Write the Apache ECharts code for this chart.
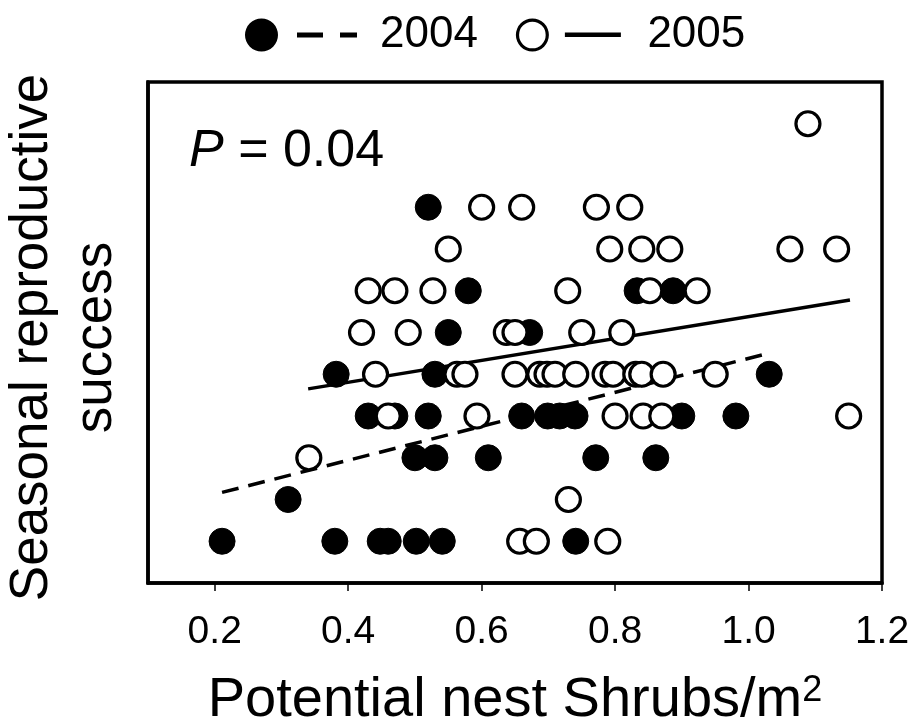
<!DOCTYPE html>
<html>
<head>
<meta charset="utf-8">
<script src="https://cdn.jsdelivr.net/npm/echarts@6/dist/echarts.min.js"></script>
<style>
html,body{margin:0;padding:0;background:#fff;}
#chart{width:914px;height:728px;}
</style>
</head>
<body>
<div id="chart"></div>
<script>
// Data
const years = ['2004', '2005'];
const xTicks = [0.2, 0.4, 0.6, 0.8, 1.0, 1.2];

// 2004 (filled): [shrubs per m2, seasonal reproductive success]
const x2004 = [0.52, 0.58, 0.833, 0.887, 0.55, 0.672, 0.382, 0.530, 1.031,
  0.43, 0.47, 0.52, 0.66, 0.699, 0.717, 0.740, 0.900, 0.981,
  0.50, 0.53, 0.61, 0.771, 0.861, 0.31,
  0.211, 0.380, 0.448, 0.460, 0.502, 0.541, 0.741];
const y2004 = [8, 6, 6, 6, 5, 5, 4, 4, 4,
  3, 3, 3, 3, 3, 3, 3, 3, 3,
  2, 2, 2, 2, 2, 1,
  0, 0, 0, 0, 0, 0, 0];

// 2005 (open)
const x2005 = [1.089,
  0.600, 0.660, 0.772, 0.822,
  0.550, 0.792, 0.840, 0.882, 1.062, 1.132,
  0.430, 0.470, 0.527, 0.729, 0.852, 0.923,
  0.420, 0.490, 0.637, 0.650, 0.750, 0.810,
  0.441, 0.563, 0.575, 0.650, 0.687, 0.698, 0.710, 0.741, 0.785, 0.797, 0.831, 0.840, 0.872, 0.950,
  0.460, 0.593, 0.800, 0.842, 0.870, 1.150,
  0.341, 0.730, 0.657, 0.682, 0.789];
const y2005 = [10,
  8, 8, 8, 8,
  7, 7, 7, 7, 7, 7,
  6, 6, 6, 6, 6, 6,
  5, 5, 5, 5, 5, 5,
  4, 4, 4, 4, 4, 4, 4, 4, 4, 4, 4, 4, 4, 4,
  3, 3, 3, 3, 3, 3,
  2, 1, 0, 0, 0];

// Regression line end points (x, y)
const fit2004 = [[0.211, 1.17], [1.032, 4.51]];
const fit2005 = [[0.340, 3.65], [1.152, 5.78]];

const pText = '{i|P} = 0.04';
const xTitle = 'Potential nest Shrubs/m';
const xTitleSup = '2';
const yTitle = 'Seasonal reproductive\nsuccess';

const FONT = '"Liberation Sans", Arial, Helvetica, sans-serif';

function zip(xs, ys) { return xs.map((v, i) => [v, ys[i]]); }

const icon2004 = 'path://M0,16.5 A16.5,16.5 0 1,1 33,16.5 A16.5,16.5 0 1,1 0,16.5 Z M52,14 L78,14 L78,19 L52,19 Z M95,14 L112,14 L112,19 L95,19 Z';
const icon2005 = 'path://M0,16.5 A16.5,16.5 0 1,1 33,16.5 A16.5,16.5 0 1,1 0,16.5 Z M3.2,16.5 A13.3,13.3 0 1,0 29.8,16.5 A13.3,13.3 0 1,0 3.2,16.5 Z M49,14 L105,14 L105,18.5 L49,18.5 Z';

const chart = echarts.init(document.getElementById('chart'), null, {renderer: 'canvas'});
chart.setOption({
  backgroundColor: '#fff',
  animation: false,
  textStyle: {fontFamily: FONT, color: '#000'},
  title: {
    text: pText,
    left: 189, top: 126, padding: 0,
    textStyle: {
      fontFamily: FONT, fontSize: 52, fontWeight: 'normal', color: '#000',
      rich: {i: {fontFamily: FONT, fontSize: 52, fontStyle: 'italic', color: '#000'}}
    }
  },
  legend: {
    top: 13, left: 245, padding: 0,
    itemWidth: 112, itemHeight: 33, itemGap: 38,
    selectedMode: false,
    textStyle: {fontFamily: FONT, fontSize: 44, color: '#000', padding: [0, 0, 0, 18]},
    data: [
      {name: years[0], icon: icon2004, itemStyle: {color: '#000', borderWidth: 0}},
      {name: years[1], icon: icon2005, itemStyle: {color: '#000', borderWidth: 0}}
    ]
  },
  grid: {
    left: 148, right: 32, top: 82, bottom: 145,
    containLabel: false, outerBoundsMode: 'none',
    show: true, borderColor: '#000', borderWidth: 3.5, backgroundColor: 'transparent'
  },
  xAxis: {
    type: 'value', min: 0.1, max: 1.2,
    splitLine: {show: false},
    axisLine: {show: true, onZero: false, lineStyle: {color: '#000', width: 3.5}},
    axisTick: {show: true, customValues: xTicks, length: 8, inside: false, lineStyle: {color: '#000', width: 1.5}},
    axisLabel: {
      customValues: xTicks, fontSize: 39, fontFamily: FONT, color: '#000', margin: 30,
      formatter: v => Number(v).toFixed(1)
    },
    name: xTitle + '{sup|' + xTitleSup + '}',
    nameLocation: 'middle', nameGap: 90,
    nameTextStyle: {
      fontFamily: FONT, fontSize: 56, color: '#000',
      rich: {sup: {fontFamily: FONT, fontSize: 36, color: '#000', verticalAlign: 'top', padding: [0, 0, 16, 0]}}
    }
  },
  yAxis: {
    type: 'value', min: -1, max: 11,
    splitLine: {show: false},
    axisLine: {show: true, onZero: false, lineStyle: {color: '#000', width: 3.5}},
    axisTick: {show: false},
    axisLabel: {show: false},
    name: yTitle,
    nameLocation: 'middle', nameGap: 20, nameRotate: 90,
    nameTextStyle: {fontFamily: FONT, fontSize: 53, color: '#000', lineHeight: 64, align: 'center', padding: [0, 10, 0, 0]}
  },
  series: [
    {
      name: years[0] + ' fit', type: 'line', data: fit2004, symbol: 'none', z: 1,
      lineStyle: {color: '#000', width: 3.5, type: [17, 10]}, silent: true
    },
    {
      name: years[1] + ' fit', type: 'line', data: fit2005, symbol: 'none', z: 1,
      lineStyle: {color: '#000', width: 3.5, type: 'solid'}, silent: true
    },
    {
      name: years[0], type: 'scatter', data: zip(x2004, y2004), symbol: 'circle', symbolSize: 26, z: 3,
      itemStyle: {color: '#000', borderColor: '#000', borderWidth: 1, opacity: 1}
    },
    {
      name: years[1], type: 'scatter', data: zip(x2005, y2005), symbol: 'circle', symbolSize: 24, z: 4,
      itemStyle: {color: '#fff', borderColor: '#000', borderWidth: 3.2, opacity: 1}
    }
  ]
});
</script>
</body>
</html>
